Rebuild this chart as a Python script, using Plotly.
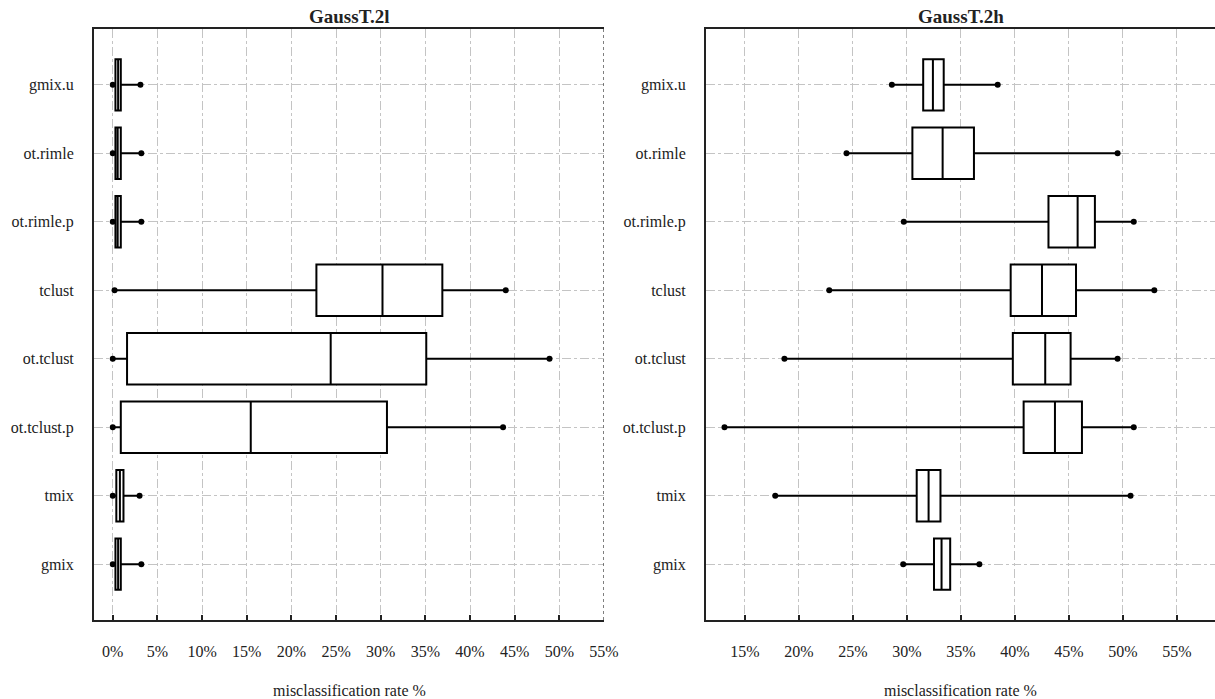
import plotly.graph_objects as go

methods = ["gmix.u", "ot.rimle", "ot.rimle.p", "tclust", "ot.tclust", "ot.tclust.p", "tmix", "gmix"]

# GaussT.2l (misclassification rate, %)
l_low = [0.0, 0.0, 0.0, 0.2, 0.0, 0.0, 0.0, 0.0]
l_q1 = [0.3, 0.3, 0.3, 22.8, 1.6, 0.9, 0.4, 0.3]
l_med = [0.6, 0.55, 0.55, 30.2, 24.4, 15.45, 0.8, 0.6]
l_q3 = [0.9, 0.9, 0.9, 36.9, 35.1, 30.7, 1.2, 0.9]
l_high = [3.1, 3.2, 3.2, 44.0, 48.9, 43.7, 3.0, 3.2]

# GaussT.2h (misclassification rate, %)
h_low = [28.6, 24.4, 29.7, 22.8, 18.65, 13.1, 17.8, 29.65]
h_q1 = [31.5, 30.5, 43.1, 39.6, 39.8, 40.8, 30.9, 32.5]
h_med = [32.4, 33.3, 45.8, 42.5, 42.8, 43.7, 32.0, 33.2]
h_q3 = [33.4, 36.2, 47.4, 45.65, 45.15, 46.2, 33.1, 34.0]
h_high = [38.4, 49.5, 51.0, 52.9, 49.5, 51.0, 50.7, 36.7]

panel_titles = ["GaussT.2l", "GaussT.2h"]
x_title = "misclassification rate %"

FONT = "Times New Roman, Liberation Serif, DejaVu Serif, serif"
TXT = "#222222"
GRID = "#c4c4c4"

pos = list(range(len(methods)))

fig = go.Figure()

def add_panel(low, q1, med, q3, high, xa, ya):
    fig.add_trace(go.Box(
        y=pos, q1=q1, median=med, q3=q3, lowerfence=low, upperfence=high,
        orientation="h", width=0.75, whiskerwidth=0,
        line=dict(color="black", width=2), fillcolor="white",
        boxpoints=False, xaxis=xa, yaxis=ya, showlegend=False, hoverinfo="skip"))
    fig.add_trace(go.Scatter(
        x=low + high, y=pos + pos, mode="markers",
        marker=dict(color="black", size=6),
        xaxis=xa, yaxis=ya, showlegend=False, hoverinfo="skip"))

add_panel(l_low, l_q1, l_med, l_q3, l_high, "x", "y")
add_panel(h_low, h_q1, h_med, h_q3, h_high, "x2", "y2")

W, H = 1215, 699
top, bottom = 29, 620
plot_h = bottom - top

xcommon = dict(
    dtick=5, tick0=0, ticksuffix="%", showgrid=True, gridcolor=GRID, griddash="dashdot",
    gridwidth=1, zeroline=False, showline=True, linecolor="#222222", linewidth=2,
    mirror=True, ticks="inside", ticklen=5, tickwidth=1.5, tickcolor="#222222",
    tickfont=dict(family=FONT, size=16, color=TXT), ticklabelstandoff=16,
    automargin=False, fixedrange=True)
ycommon = dict(
    tickmode="array", tickvals=pos, ticktext=methods, range=[7.815, -0.815],
    showgrid=True, gridcolor=GRID, griddash="dashdot", gridwidth=1, zeroline=False,
    showline=True, linecolor="#222222", linewidth=2, mirror=False, ticks="",
    tickfont=dict(family=FONT, size=16, color=TXT), ticklabelstandoff=15,
    automargin=False, fixedrange=True)

d1 = [94 / W, 604 / W]
d2 = [706 / W, 1.0]

fig.update_layout(
    width=W, height=H,
    margin=dict(l=0, r=0, t=top, b=H - bottom),
    paper_bgcolor="white", plot_bgcolor="white",
    font=dict(family=FONT, color=TXT),
    xaxis=dict(domain=d1, range=[-2.1, 55.0], anchor="y", **xcommon),
    xaxis2=dict(domain=d2, range=[11.39, 58.52], anchor="y2", **xcommon),
    yaxis=dict(domain=[0, 1], anchor="x", **ycommon),
    yaxis2=dict(domain=[0, 1], anchor="x2", **ycommon),
)

# right edge of the left panel drawn as a dotted frame line
fig.add_shape(type="line", xref="x", yref="paper", x0=55.0, x1=55.0, y0=0, y1=1,
              line=dict(color="#555555", width=1.5, dash="dot"))

annots = []
for title, d in zip(panel_titles, [d1, d2]):
    cx = (d[0] + d[1]) / 2
    annots.append(dict(text="<b>%s</b>" % title, x=cx, xref="paper",
                       y=1 + (top - 17) / plot_h, yref="paper", showarrow=False,
                       xanchor="center", yanchor="middle",
                       font=dict(family=FONT, size=19, color=TXT)))
    annots.append(dict(text=x_title, x=cx, xref="paper",
                       y=(bottom - 690) / plot_h, yref="paper", showarrow=False,
                       xanchor="center", yanchor="middle",
                       font=dict(family=FONT, size=16, color=TXT)))
fig.update_layout(annotations=annots)

fig.write_html("out.html")
